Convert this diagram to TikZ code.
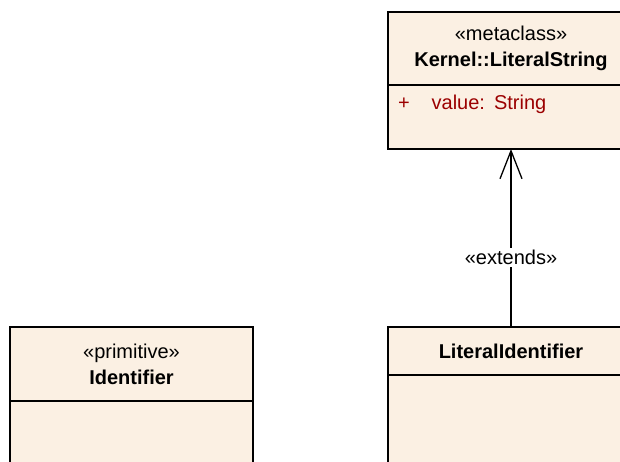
\documentclass[tikz,border=0pt]{standalone}
\usepackage{fontspec}
\setmainfont{Liberation Sans}
\usetikzlibrary{positioning,arrows.meta}
\definecolor{clsfill}{RGB}{251,240,227}
\definecolor{attrred}{RGB}{155,0,0}

\begin{document}
\begin{tikzpicture}[x=1pt,y=-1pt,
  every node/.style={font=\fontsize{20}{26}\selectfont,inner sep=0pt,outer sep=0pt,align=center},%
  cls/.style={draw=black,line width=1.4pt,fill=clsfill,anchor=north west},%
  wr/.style={minimum width=246pt},%
  wl/.style={minimum width=243pt},%
  attr/.style={text=attrred,anchor=north west},%
  ext/.style={-{Straight Barb[length=28pt,width=22pt]},line width=1.3pt},%
  lb/.style={fill=white,inner sep=2pt}
  ]
  \useasboundingbox (0,0) rectangle (620,461);
  \clip (0,0) rectangle (620,461);
  \node (lsHead) [cls,wr,minimum height=73pt] at (388,12) {«metaclass»\\\textbf{Kernel::LiteralString}};
  \node (lsBody) [cls,wr,minimum height=64pt,below=0pt of lsHead] {};
  \node (lsVal) [attr] at (398,95) {+\hspace{22pt}value:\hspace{9pt}String};
  \node (idHead) [cls,wl,minimum height=74pt] at (10,327) {«primitive»\\\textbf{Identifier}};
  \node (idBody) [cls,wl,minimum height=100pt,below=0pt of idHead] {};
  \node (liHead) [cls,wr,minimum height=48pt] at (388,327) {\textbf{LiteralIdentifier}};
  \node (liBody) [cls,wr,minimum height=100pt,below=0pt of liHead] {};
  \draw [ext] (liHead) -- (lsBody) node [lb,pos=0.39] {«extends»};
\end{tikzpicture}
\end{document}
